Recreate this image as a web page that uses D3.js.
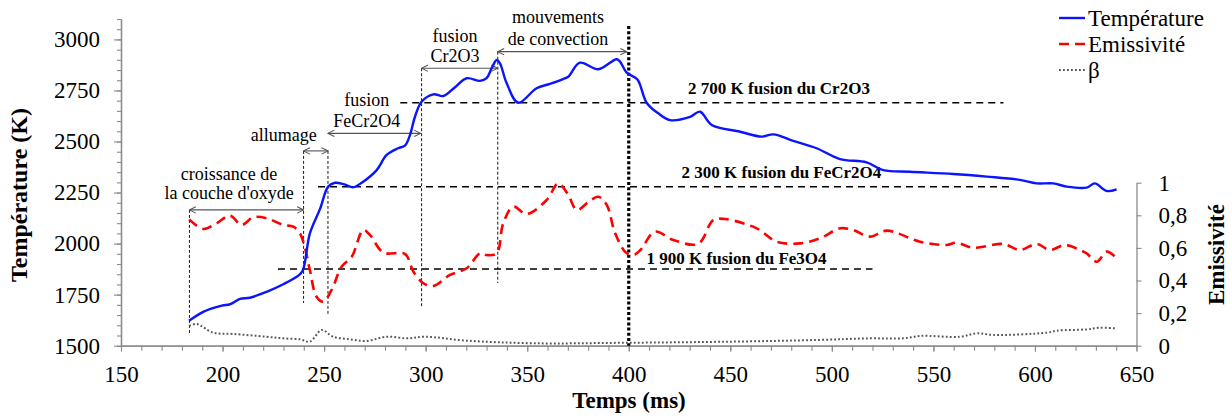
<!DOCTYPE html>
<html><head><meta charset="utf-8">
<script src="https://cdn.jsdelivr.net/npm/d3@7"></script>
<style>
body{margin:0;background:#fff;}
svg{display:block;}
svg text{font-family:"Liberation Serif","DejaVu Serif",serif;}
</style></head>
<body><svg id="c" width="1232" height="419"></svg>
<script>
// ---- data ----
const tempTime = [183.5,190.5,199.7,203.7,208.6,213.5,221.7,229.9,237.3,239.5,243,248,252,255.4,260,264.3,268.5,275.9,280.8,286.5,289.8,292.3,294.7,298,303.8,308.7,314.5,320.2,326.8,330,332.5,335,336.6,339.9,345.6,354.6,361.2,367.7,370.2,375.9,385,394,395.7,399,404.2,408.8,414.5,420.3,430.2,435.1,440.8,454.8,465.5,471.2,481,492.5,504,517.1,525.3,538.5,559.8,576.3,592.6,600.8,609,615.6,625.4,629.5,635.3,640.2];
const tempVal  = [1622,1666,1696,1703,1729,1735,1764,1801,1843,1868,2050,2170,2279,2298,2290,2276,2298,2360,2434,2467,2480,2532,2620,2695,2731,2723,2766,2810,2797,2810,2859,2899,2883,2785,2690,2761,2782,2806,2817,2886,2854,2903,2891,2837,2805,2690,2638,2605,2621,2646,2581,2548,2524,2535,2503,2467,2414,2398,2360,2352,2341,2328,2312,2295,2295,2279,2274,2295,2258,2266];
const emisTime = [183.6,190.5,197.1,203.7,209.4,215.1,221.7,229.9,234.8,238.1,240.6,243,246.3,249.6,253.7,258.6,263.6,269.3,272.6,279.2,289.8,294,298.9,303.8,312,320.2,326.8,330,335,338.2,343.2,349.7,359.6,365.3,370,374.4,380,385,389.2,393.3,399,403,406,412.9,422,434.2,441.6,447.4,463,472.8,484.3,494.2,504,510.5,518.8,527,543.4,556.5,561.4,569.6,584.4,592.6,600.8,607.4,614.8,622.1,625.4,630.4,635.3,639.4];
const emisVal  = [0.775,0.716,0.751,0.798,0.741,0.788,0.782,0.741,0.730,0.690,0.598,0.464,0.30,0.27,0.342,0.485,0.546,0.71,0.679,0.571,0.563,0.454,0.383,0.366,0.434,0.475,0.567,0.556,0.567,0.751,0.853,0.808,0.894,0.996,0.93,0.833,0.88,0.914,0.863,0.69,0.567,0.56,0.59,0.70,0.648,0.625,0.771,0.777,0.72,0.638,0.628,0.659,0.72,0.71,0.669,0.706,0.638,0.618,0.632,0.601,0.624,0.587,0.624,0.587,0.618,0.587,0.567,0.515,0.577,0.546];
const betaTime = [183.6,187.2,195.4,205.3,221.7,229.9,238.1,243,248.8,254.5,262.7,270.9,280.8,290.7,299.7,320.2,353,399,451.4,492.6,518.8,535.2,543.4,563.1,571.3,579.5,605.8,610.7,625.4,631.9,639.4];
const betaVal  = [0.121,0.133,0.08,0.072,0.055,0.045,0.039,0.025,0.096,0.055,0.039,0.029,0.055,0.045,0.055,0.031,0.015,0.018,0.025,0.035,0.045,0.045,0.06,0.055,0.076,0.066,0.08,0.092,0.1,0.11,0.107];

const xTicks = [150,200,250,300,350,400,450,500,550,600,650];
const tTicks = [1500,1750,2000,2250,2500,2750,3000];
const eTicks = [0,0.2,0.4,0.6,0.8,1];
const seriesNames = ["Température","Emissivité","β"];

// reference melting lines
const refLabels = ["2 700 K fusion du Cr2O3","2 300 K fusion du FeCr2O4","1 900 K fusion du Fe3O4"];
const refK      = [2690,2279,1876];
const refStart  = [287.5,247,227.3];
const refEnd    = [584.5,589.5,520];
const refLabT   = [429.2,426,408.8];
const refLabK   = [2732,2319,1902];

// phase markers (vertical thin dashed lines)
const markT   = [183.7,239.9,251.9,298,335.5];
const markTop = [2165,2454,2454,2859,2940];
const markBot = [1552,1709,1650,1690,1807];

// phase arrows
const arrFrom = [183.7,239.9,251.9,298,335.5];
const arrTo   = [239.9,251.9,297.5,335.5,399];
const arrK    = [2165,2454,2540,2859,2940];
const phaseText = [["croissance de","la couche d'oxyde"],["allumage"],["fusion","FeCr2O4"],["fusion","Cr2O3"],["mouvements","de convection"]];
const phaseT    = [203.2,230.1,271,314.5,365.2];
const phaseK    = [[2311,2218],[2504],[2674,2571],[2989,2891],[3080,2973]];

const endTime = 400;

// ---- drawing ----
const svg = d3.select("#c");
const x  = d3.scaleLinear([150,650],[121,1136.5]);
const yT = d3.scaleLinear([1500,3100],[345.7,19]);
const yE = d3.scaleLinear([0,1],[345.7,182.7]);
const axisCol = "#8a8a8a";
const serif = '"Liberation Serif","DejaVu Serif",serif';

function styleAxis(g){
  g.attr("font-family",serif).attr("font-size",23);
  g.selectAll("path.domain").attr("stroke",axisCol).attr("stroke-width",1.3);
  g.selectAll(".tick line").attr("stroke",axisCol).attr("stroke-width",1.1);
  g.selectAll("text").attr("fill","#000");
}

const tMinor = d3.range(1500,3101,50);
const xMinor = d3.range(150,651,10);
svg.append("g").attr("transform","translate(121,0)")
  .call(d3.axisLeft(yT).tickValues(tMinor).tickSize(4).tickFormat("").tickSizeOuter(0)).call(styleAxis);
svg.append("g").attr("transform","translate(0,345.7)")
  .call(d3.axisBottom(x).tickValues(xMinor).tickSize(5).tickFormat("").tickSizeOuter(0)).call(styleAxis);
svg.append("g").attr("transform","translate(121,0)")
  .call(d3.axisLeft(yT).tickValues(tTicks).tickSize(7).tickPadding(14).tickSizeOuter(0).tickFormat(d3.format("d"))).call(styleAxis);
svg.append("g").attr("transform","translate(0,345.7)")
  .call(d3.axisBottom(x).tickValues(xTicks).tickSize(6).tickPadding(14).tickSizeOuter(0).tickFormat(d3.format("d"))).call(styleAxis);
svg.append("g").attr("transform","translate(1136.5,0)")
  .call(d3.axisRight(yE).tickValues(eTicks).tickSize(5).tickPadding(17).tickSizeOuter(0)
    .tickFormat(d=> d===0?"0":d===1?"1":String(+d.toFixed(1)).replace(".",","))).call(styleAxis);

// axis titles
svg.append("text").attr("x",629).attr("y",408).attr("text-anchor","middle")
  .attr("font-weight","bold").attr("font-size",23).text("Temps (ms)");
svg.append("text").attr("transform","translate(27,195) rotate(-90)").attr("text-anchor","middle")
  .attr("font-weight","bold").attr("font-size",24).text("Température (K)");
svg.append("text").attr("transform","translate(1224,254.5) rotate(-90)").attr("text-anchor","middle")
  .attr("font-weight","bold").attr("font-size",23).text("Emissivité");

refK.forEach((k,i)=>{
  svg.append("line").attr("x1",x(refStart[i])).attr("x2",x(refEnd[i])).attr("y1",yT(k)).attr("y2",yT(k))
    .attr("stroke","#000").attr("stroke-width",1.5).attr("stroke-dasharray","7,5");
  svg.append("text").attr("x",x(refLabT[i])).attr("y",yT(refLabK[i])).attr("font-weight","bold")
    .attr("font-size",17).text(refLabels[i]);
});

svg.append("defs").append("marker").attr("id","ah").attr("viewBox","0 0 10 10").attr("refX",9).attr("refY",5)
  .attr("markerWidth",8).attr("markerHeight",8).attr("markerUnits","userSpaceOnUse").attr("orient","auto-start-reverse")
  .append("path").attr("d","M1,1 L9,5 L1,9").attr("fill","none").attr("stroke","#555").attr("stroke-width",1.3);

markT.forEach((t,i)=>{
  svg.append("line").attr("x1",x(t)).attr("x2",x(t)).attr("y1",yT(markTop[i])).attr("y2",yT(markBot[i]))
    .attr("stroke","#000").attr("stroke-width",0.9).attr("stroke-dasharray","3,2");
});
arrFrom.forEach((t,i)=>{
  svg.append("line").attr("x1",x(t)).attr("x2",x(arrTo[i])).attr("y1",yT(arrK[i])).attr("y2",yT(arrK[i]))
    .attr("stroke","#555").attr("stroke-width",1.1).attr("marker-start","url(#ah)").attr("marker-end","url(#ah)");
});
phaseText.forEach((lines,i)=>{
  lines.forEach((s,j)=>{
    svg.append("text").attr("x",x(phaseT[i])).attr("y",yT(phaseK[i][j])).attr("text-anchor","middle")
      .attr("font-size",18).text(s);
  });
});

svg.append("line").attr("x1",x(endTime)).attr("x2",x(endTime)).attr("y1",26).attr("y2",345.7)
  .attr("stroke","#000").attr("stroke-width",3.2).attr("stroke-dasharray","3,2.2");

const lineT = d3.line().x(d=>x(d[0])).y(d=>yT(d[1])).curve(d3.curveCatmullRom.alpha(0.5));
const lineE = d3.line().x(d=>x(d[0])).y(d=>yE(d[1])).curve(d3.curveCatmullRom.alpha(0.5));
svg.append("path").datum(betaTime.map((t,i)=>[t,betaVal[i]])).attr("d",lineE)
  .attr("fill","none").attr("stroke","#555").attr("stroke-width",2).attr("stroke-dasharray","1.8,2.2");
svg.append("path").datum(emisTime.map((t,i)=>[t,emisVal[i]])).attr("d",lineE)
  .attr("fill","none").attr("stroke","#ff0000").attr("stroke-width",2.6).attr("stroke-dasharray","10,6");
svg.append("path").datum(tempTime.map((t,i)=>[t,tempVal[i]])).attr("d",lineT)
  .attr("fill","none").attr("stroke","#0a14ff").attr("stroke-width",2.4);

const lg = svg.append("g");
const lgStroke = ["#0a14ff","#ff0000","#555"];
const lgDash = [null,"10,6","1.8,2.2"];
const lgW = [2.4,2.6,2];
seriesNames.forEach((n,i)=>{
  const yy = 18 + i*26;
  lg.append("line").attr("x1",1059).attr("x2",1085).attr("y1",yy).attr("y2",yy)
    .attr("stroke",lgStroke[i]).attr("stroke-width",lgW[i]).attr("stroke-dasharray",lgDash[i]);
  lg.append("text").attr("x",1088).attr("y",yy+7.5).attr("font-size",23).text(n);
});
</script></body></html>
